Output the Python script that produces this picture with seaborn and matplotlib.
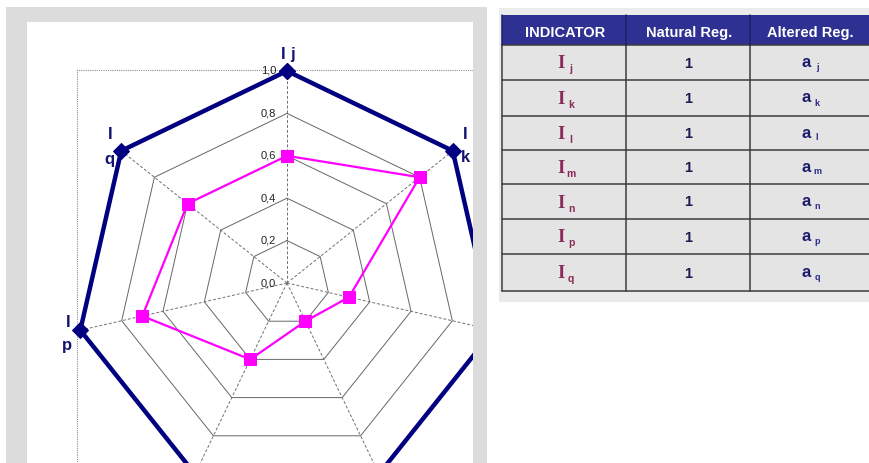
import numpy as np
import pandas as pd
import matplotlib
matplotlib.use("Agg")
import matplotlib.pyplot as plt
import seaborn as sns
from matplotlib.patches import Rectangle

# ---------------- data ----------------
indicators = ["j", "k", "l", "m", "n", "p", "q"]
natural_reg = [1.0, 1.0, 1.0, 1.0, 1.0, 1.0, 1.0]
altered_reg = [0.6, 0.8, 0.3, 0.2, 0.4, 0.7, 0.6]
ring_levels = [0.2, 0.4, 0.6, 0.8, 1.0]
tick_values = [0.0, 0.2, 0.4, 0.6, 0.8, 1.0]
tick_labels = ["0,0", "0,2", "0,4", "0,6", "0,8", "1,0"]
table_header = ["INDICATOR", "Natural Reg.", "Altered Reg."]
table_natural = ["1", "1", "1", "1", "1", "1", "1"]

sns.set_style("white")
plt.rcParams["font.family"] = ["Liberation Sans", "DejaVu Sans"]

W, H = 869, 463
fig = plt.figure(figsize=(W / 100, H / 100), dpi=100)
fig.patch.set_facecolor("white")

# background axes in pixel coordinates
bg = fig.add_axes([0, 0, 1, 1])
bg.set_xlim(0, W)
bg.set_ylim(H, 0)
bg.axis("off")
bg.add_patch(Rectangle((6, 7), 481, 470, facecolor="#dcdcdc", edgecolor="none"))
bg.add_patch(Rectangle((27, 22), 446, 460, facecolor="white", edgecolor="none"))

# ---------------- radar ----------------
CX, CY, R = 287, 283, 212
L, T, Rr, B = 27, 22, 473, 463
ax = fig.add_axes([L / W, (H - B) / H, (Rr - L) / W, (B - T) / H])
ax.set_xlim((L - CX) / R, (Rr - CX) / R)
ax.set_ylim((CY - B) / R, (CY - T) / R)
ax.axis("off")

n = len(indicators)
theta = 2 * np.pi * np.arange(n) / n
sx, cy_ = np.sin(theta), np.cos(theta)

def closed(vals):
    v = np.asarray(vals, dtype=float)
    x = v * sx
    y = v * cy_
    return pd.DataFrame({"x": np.r_[x, x[0]], "y": np.r_[y, y[0]],
                         "order": np.arange(n + 1)})

# plot-area border (Excel style dotted frame)
bx = (77 - CX) / R
by = (CY - 70) / R
ax.plot([bx, bx, 5], [-5, by, by], color="#8c8c8c", lw=0.8, ls=(0, (1, 1)))

# rings
for lev in ring_levels[:-1]:
    d = closed([lev] * n)
    sns.lineplot(data=d, x="x", y="y", sort=False, estimator=None, ax=ax,
                 color="#666666", lw=0.7)
# spokes
for i in range(n):
    ax.plot([0, sx[i]], [0, cy_[i]], color="#707070", lw=0.7, ls=(0, (3, 2)))

# tick labels
for v, lbl in zip(tick_values, tick_labels):
    ax.text(-11 / R, v, lbl, ha="right", va="center", fontsize=8,
            color="#222222", zorder=2)

# natural regime (navy)
d_nat = closed(natural_reg)
sns.lineplot(data=d_nat, x="x", y="y", sort=False, estimator=None, ax=ax,
             color="#000080", lw=3.2, marker="D", markersize=8,
             markeredgecolor="#000080", zorder=4)
# altered regime (magenta)
d_alt = closed(altered_reg)
sns.lineplot(data=d_alt, x="x", y="y", sort=False, estimator=None, ax=ax,
             color="#ff00ff", lw=1.6, marker="s", markersize=8.5,
             markeredgecolor="#ff00ff", zorder=5)

# axis labels (only those that fall inside the visible chart area)
lab_col = "#141470"
label_offsets = {  # pixel offsets (dx, dy) of "I" and of the letter
    "j": ((-4, -16), (5, -16)),
    "k": ((12, -16), (13, 7)),
    "l": ((14, -16), (14, 7)),
    "m": ((14, 20), (14, 40)),
    "n": ((-14, 20), (-14, 40)),
    "p": ((-12, -8), (-13, 15)),
    "q": ((-11, -16), (-12, 9)),
}
x0, x1 = ax.get_xlim()
y0, y1 = ax.get_ylim()
for i, name in enumerate(indicators):
    vx, vy = sx[i], cy_[i]
    (ix, iy), (qx, qy) = label_offsets[name]
    px, py = vx + qx / R, vy - qy / R
    if not (x0 + 0.03 < px < x1 - 0.03 and y0 + 0.05 < py < y1 - 0.03):
        continue
    ax.text(vx + ix / R, vy - iy / R, "I", ha="center", va="center",
            fontsize=12, fontweight="bold", color=lab_col)
    ax.text(px, py, name, ha="center", va="center",
            fontsize=12, fontweight="bold", color=lab_col)

# ---------------- table ----------------
bg.add_patch(Rectangle((499, 8), 370, 294, facecolor="#ebebeb", edgecolor="none"))
col_x = [502, 626, 750, 869]
row_y = [15, 45, 80, 116, 150, 184, 219, 254, 291]
bg.add_patch(Rectangle((502, 15), 367, 30, facecolor="#2e3192", edgecolor="none"))
bg.add_patch(Rectangle((502, 45), 367, 246, facecolor="#e4e4e4", edgecolor="none"))
for y in row_y[1:]:
    bg.plot([502, 869], [y, y], color="#3c3c3c", lw=1.1)
for x in col_x[:3]:
    bg.plot([x, x], [45, 291], color="#3c3c3c", lw=1.1)
    bg.plot([x, x], [15, 45], color="#1c1f66", lw=1.1)

centers = [(col_x[k] + col_x[k + 1]) / 2 for k in range(3)]
for k, h in enumerate(table_header):
    bg.text(centers[k] + 1, 33, h, ha="center", va="center", color="white",
            fontsize=10.5, fontweight="bold")

maroon = "#8b2a5a"
for r, name in enumerate(indicators):
    yc = (row_y[r + 1] + row_y[r + 2]) / 2
    bg.text(561, yc + 1.5, "I", ha="center", va="center", color=maroon,
            fontsize=13.5, fontweight="bold",
            family=["Liberation Serif", "DejaVu Serif"])
    bg.text(571, yc + 7, name, ha="center", va="center", color=maroon,
            fontsize=7.5, fontweight="bold")
    bg.text(688, yc + 1, table_natural[r], ha="center", va="center",
            color="#1a1a50", fontsize=10.5, fontweight="bold")
    bg.text(806, yc, "a", ha="center", va="center", color="#1c1c6b",
            fontsize=12, fontweight="bold")
    bg.text(817, yc + 5, name, ha="center", va="center", color="#2a2a8a",
            fontsize=6.5, fontweight="bold")

fig.savefig("out.png", dpi=100)
